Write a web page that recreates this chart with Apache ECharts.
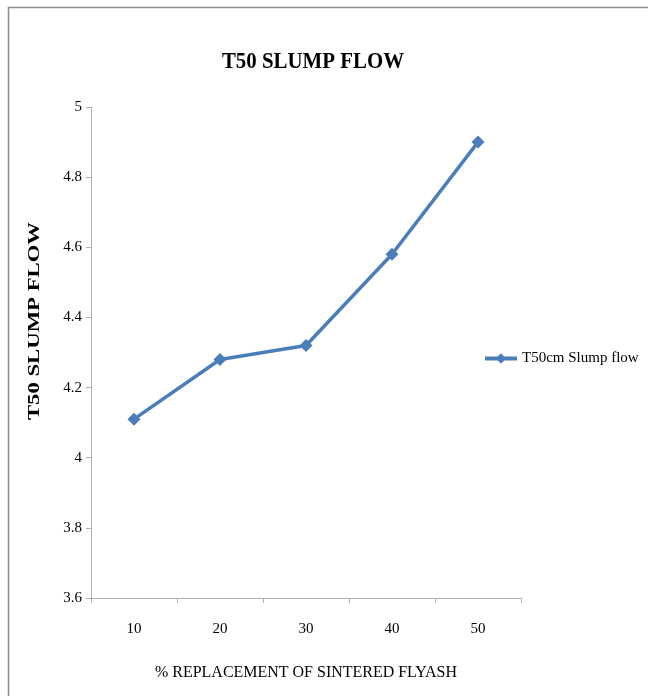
<!DOCTYPE html>
<html>
<head>
<meta charset="utf-8">
<style>
  html, body { margin: 0; padding: 0; background: #fff; }
  #chart { width: 648px; height: 696px; }
</style>
<script src="https://cdn.jsdelivr.net/npm/echarts@6/dist/echarts.min.js"></script>
</head>
<body>
<div id="chart"></div>
<script>
// Replacement level of sintered flyash (%)
const categories = ['10', '20', '30', '40', '50'];
// T50 slump flow time
const slumpFlow = [4.11, 4.28, 4.32, 4.58, 4.9];
const seriesName = 'T50cm Slump flow';
const titleText = 'T50 SLUMP FLOW';
const xAxisTitle = '% REPLACEMENT OF SINTERED FLYASH';
const yAxisTitle = 'T50 SLUMP FLOW';

const serif = '"Liberation Serif", "Times New Roman", serif';
const lineBlue = '#4a7ebb';
const chart = echarts.init(document.getElementById('chart'));

chart.setOption({
  animation: false,
  backgroundColor: '#fff',
  legend: {
    data: [seriesName],
    left: 478,
    top: 346,
    itemWidth: 32,
    itemHeight: 13,
    itemGap: 3,
    lineStyle: { width: 4 },
    textStyle: { fontFamily: serif, fontSize: 15, color: '#000' }
  },
  grid: { left: 91, right: 127, top: 107, bottom: 98 },
  xAxis: {
    type: 'category',
    data: categories,
    boundaryGap: true,
    axisLine: { lineStyle: { color: '#b0b0b0', width: 1 } },
    axisTick: { show: true, length: 5, alignWithLabel: false, lineStyle: { color: '#b0b0b0' } },
    axisLabel: { fontFamily: serif, fontSize: 15, color: '#000', margin: 24 }
  },
  yAxis: {
    type: 'value',
    min: 3.6,
    max: 5,
    interval: 0.2,
    splitLine: { show: false },
    axisLine: { show: true, lineStyle: { color: '#b0b0b0', width: 1 } },
    axisTick: { show: true, length: 5, lineStyle: { color: '#b0b0b0' } },
    axisLabel: {
      fontFamily: serif, fontSize: 15, color: '#000', margin: 9,
      formatter: v => String(Math.round(v * 10) / 10)
    }
  },
  graphic: [
    {
      type: 'rect',
      shape: { x: 8.5, y: 7.5, width: 700, height: 760 },
      style: { fill: 'none', stroke: '#8c8c8c', lineWidth: 1.5 },
      silent: true
    },
    {
      type: 'text',
      x: 313,
      y: 62,
      scaleX: 0.87,
      style: {
        text: titleText,
        fontFamily: serif,
        fontWeight: 'bold',
        fontSize: 24,
        fill: '#000',
        align: 'center',
        verticalAlign: 'middle'
      },
      silent: true
    },
    {
      type: 'text',
      x: 306,
      y: 673,
      scaleX: 0.94,
      style: {
        text: xAxisTitle,
        fontFamily: serif,
        fontSize: 17,
        fill: '#000',
        align: 'center',
        verticalAlign: 'middle'
      },
      silent: true
    },
    {
      type: 'text',
      x: 35,
      y: 321,
      rotation: Math.PI / 2,
      scaleX: 1.42,
      style: {
        text: yAxisTitle,
        fontFamily: serif,
        fontWeight: 'bold',
        fontSize: 16,
        fill: '#000',
        align: 'center',
        verticalAlign: 'middle'
      },
      silent: true
    }
  ],
  series: [{
    name: seriesName,
    type: 'line',
    data: slumpFlow,
    symbol: 'diamond',
    symbolSize: 13,
    lineStyle: { color: lineBlue, width: 3.5 },
    itemStyle: { color: lineBlue }
  }]
});
</script>
</body>
</html>
